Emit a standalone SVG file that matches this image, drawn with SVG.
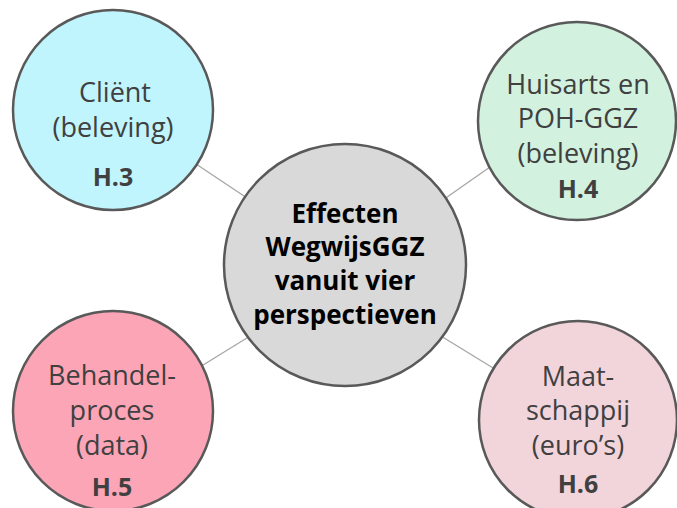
<svg xmlns="http://www.w3.org/2000/svg" width="677" height="508" viewBox="0 0 677 508">
<style>
.node{stroke:#595959;stroke-width:2.5}
.conn{stroke:#A6A6A6;stroke-width:1.3;fill:none}
.t{font-family:"Open Sans","Noto Sans",sans-serif;font-size:27px;fill:#404040;text-anchor:middle}
.h{font-family:"Open Sans","Noto Sans",sans-serif;font-size:25px;font-weight:bold;fill:#404040;text-anchor:middle}
.c{font-family:"Open Sans","Noto Sans",sans-serif;font-size:26px;font-weight:bold;fill:#000;text-anchor:middle}
</style>
<rect width="677" height="508" fill="#fff"/>
<g id="connectors">
<line class="conn" x1="190" y1="160" x2="250" y2="200"/>
<line class="conn" x1="500" y1="160" x2="440" y2="202"/>
<line class="conn" x1="195" y1="370" x2="255" y2="333"/>
<line class="conn" x1="436" y1="333" x2="498" y2="371"/>
</g>
<g id="client">
<circle class="node" cx="113" cy="110" r="100" fill="#C1F5FD"/>
<text class="t" x="115" y="102">Cliënt</text>
<text class="t" x="113" y="137">(beleving)</text>
<text class="h" x="113" y="186">H.3</text>
</g>
<g id="huisarts">
<circle class="node" cx="577" cy="121" r="99" fill="#D2F1DF"/>
<text class="t" x="578" y="94">Huisarts en</text>
<text class="t" x="578" y="128">POH-GGZ</text>
<text class="t" x="578" y="163">(beleving)</text>
<text class="h" x="578" y="198">H.4</text>
</g>
<g id="center">
<circle class="node" cx="345" cy="265" r="121" fill="#D9D9D9"/>
<text class="c" x="345" y="223">Effecten</text>
<text class="c" x="345" y="256">WegwijsGGZ</text>
<text class="c" x="345" y="290">vanuit vier</text>
<text class="c" x="345" y="324">perspectieven</text>
</g>
<g id="behandel">
<circle class="node" cx="113" cy="411" r="100" fill="#FCA5B7"/>
<text class="t" x="112" y="385">Behandel-</text>
<text class="t" x="112" y="420">proces</text>
<text class="t" x="112" y="455">(data)</text>
<text class="h" x="112" y="496">H.5</text>
</g>
<g id="maatschappij">
<circle class="node" cx="578" cy="420" r="99" fill="#F2D4DB"/>
<text class="t" x="578" y="386">Maat-</text>
<text class="t" x="578" y="420">schappij</text>
<text class="t" x="578" y="455">(euro’s)</text>
<text class="h" x="578" y="493">H.6</text>
</g>
</svg>
